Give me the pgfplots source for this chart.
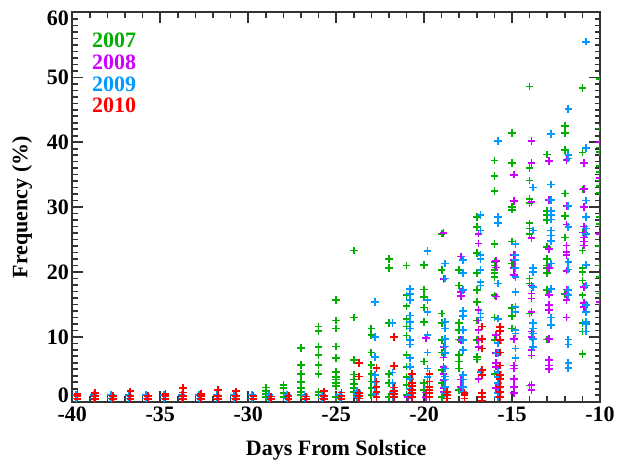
\documentclass[border=0pt]{standalone}
\usepackage{pgfplots}
\pgfplotsset{compat=1.18}
\usepackage{fontspec}
\setmainfont{Liberation Serif}
\definecolor{g07}{RGB}{0,175,0}
\definecolor{m08}{RGB}{204,0,255}
\definecolor{b09}{RGB}{0,153,255}
\definecolor{r10}{RGB}{255,0,0}
\begin{document}
\begin{tikzpicture}[x=1pt,y=1pt]
\useasboundingbox (0,0) rectangle (631,464);
\begin{axis}[
  at={(72.3pt,62.3pt)}, anchor=south west,
  scale only axis, width=527.7pt, height=389.2pt,
  xmin=-40, xmax=-10, ymin=0, ymax=60,
  xtick={-40,-35,...,-10}, xticklabels={-40,-35,-30,-25,-20,-15,-10},
  ytick={0,10,...,60}, yticklabels={\raisebox{-1pt}[0pt][0pt]{0},10,20,30,40,50,\raisebox{-13pt}[0pt][0pt]{60}},
  minor x tick num=4, minor y tick num=9,
  tick align=inside, xtick pos=both, ytick pos=both,
  major tick length=11pt, minor tick length=5.5pt,
  every tick/.style={black!80, line width=1.6pt},
  axis line style={black!80, line width=2pt},
  tick label style={font=\fontsize{22}{24}\selectfont\bfseries},
  yticklabel style={inner ysep=0pt},
  xticklabel style={yshift=-4pt, inner ysep=1pt},
  xlabel={Days From Solstice}, ylabel={Frequency (\%)},
  x label style={at={(rel axis cs:0.5,-0.124)}, anchor=center, font=\fontsize{22}{24}\selectfont\bfseries},
  y label style={at={(rel axis cs:-0.095,0.5)}, anchor=center, font=\fontsize{22}{24}\selectfont\bfseries},
  clip marker paths=true,
  every axis plot/.append style={only marks, mark=+, mark size=3.8pt, line width=1.7pt},
]
\addplot[g07] coordinates {
(-29,0.7)(-29,1.2)(-29,1.7)(-29,2.2)
(-28,0.7)(-28,1.3)(-28,2.1)(-28,2.6)
(-27,1.0)(-27,1.5)(-27,2.1)(-27,3.0)(-27,4.3)(-27,5.7)(-27,8.3)
(-26,1.0)(-26,1.5)(-26,4.3)(-26,5.7)(-26,7.2)(-26,8.4)(-26,10.9)(-26,11.6)
(-25,0.7)(-25,2.4)(-25,2.9)(-25,3.4)(-25,3.8)(-25,4.6)(-25,6.7)(-25,8.5)(-25,11.3)(-25,12.5)(-25,15.7)
(-24,1.5)(-24,2.1)(-24,2.7)(-24,3.4)(-24,4.2)(-24,6.4)(-24,13.0)(-24,23.3)
(-23,1.0)(-23,2.1)(-23,3.1)(-23,4.3)(-23,5.7)(-23,7.6)(-23,10.3)(-23,11.3)
(-22,0.7)(-22,2.9)(-22,4.3)(-22,12.1)(-22,20.6)(-22,22.0)
(-21,1.0)(-21,2.6)(-21,3.8)(-21,5.4)(-21,7.2)(-21,10.2)(-21,11.6)(-21,12.8)(-21,14.7)(-21,16.4)(-21,21.0)
(-20,1.8)(-20,2.9)(-20,6.2)(-20,12.3)(-20,14.5)(-20,16.1)(-20,17.3)(-20,21.1)
(-19,0.7)(-19,2.9)(-19,4.9)(-19,7.6)(-19,9.5)(-19,12.1)(-19,13.6)(-19,20.3)(-19,25.9)
(-18,1.8)(-18,5.1)(-18,6.2)(-18,7.2)(-18,9.6)(-18,11.1)(-18,12.1)(-18,17.9)(-18,20.3)
(-17,6.5)(-17,6.9)(-17,9.5)(-17,12.5)(-17,15.4)(-17,17.2)(-17,19.8)(-17,22.9)(-17,26.9)(-17,28.5)
(-16,4.3)(-16,9.5)(-16,13.0)(-16,16.4)(-16,19.2)(-16,19.8)(-16,20.3)(-16,21.0)(-16,21.5)(-16,24.3)(-16,32.5)(-16,34.8)(-16,37.2)
(-15,11.3)(-15,13.2)(-15,14.4)(-15,21.3)(-15,24.7)(-15,29.6)(-15,30.0)(-15,36.8)(-15,41.4)
(-14,2.5)(-14,13.6)(-14,18.2)(-14,19.0)(-14,25.9)(-14,26.7)(-14,27.5)(-14,30.6)(-14,31.3)(-14,34.1)(-14,36.0)(-14,48.6)
(-13,9.6)(-13,17.2)(-13,19.8)(-13,20.6)(-13,21.0)(-13,22.0)(-13,23.9)(-13,28.0)(-13,28.8)(-13,29.4)(-13,38.1)
(-12,16.6)(-12,25.3)(-12,28.6)(-12,32.1)(-12,38.8)(-12,41.4)(-12,42.5)
(-11,7.4)(-11,10.8)(-11,12.1)(-11,16.4)(-11,18.7)(-11,20.0)(-11,20.6)(-11,23.3)(-11,26.1)(-11,32.7)(-11,38.4)(-11,48.4)
(-10,16.7)(-10,19.2)(-10,21.0)(-10,24.0)(-10,27.4)(-10,28.5)(-10,32.2)(-10,33.3)(-10,34.1)(-10,35.4)(-10,36.3)(-10,38.5)(-10,39.2)(-10,42.1)(-10,49.8)
};
\addplot[m08] coordinates {
(-20.9,0.7)
(-19.9,0.7)(-19.9,1.4)(-19.9,9.8)
(-18.9,1.5)(-18.9,2.1)(-18.9,3.3)(-18.9,4.3)(-18.9,5.4)(-18.9,6.8)(-18.9,8.4)(-18.9,18.9)(-18.9,26.0)
(-17.9,2.3)(-17.9,3.4)(-17.9,9.5)(-17.9,16.3)(-17.9,16.9)(-17.9,22.4)
(-16.9,3.5)(-16.9,8.4)(-16.9,9.5)(-16.9,11.1)(-16.9,12.5)(-16.9,14.1)(-16.9,24.4)(-16.9,25.9)
(-15.9,2.1)(-15.9,5.4)(-15.9,6.0)(-15.9,7.5)(-15.9,10.3)(-15.9,16.2)(-15.9,20.7)(-15.9,21.7)
(-14.9,1.3)(-14.9,2.3)(-14.9,3.5)(-14.9,5.1)(-14.9,5.6)(-14.9,9.7)(-14.9,19.5)(-14.9,20.6)(-14.9,21.8)(-14.9,22.6)(-14.9,30.9)(-14.9,35.0)
(-13.9,1.8)(-13.9,2.6)(-13.9,7.1)(-13.9,8.0)(-13.9,10.0)(-13.9,10.8)(-13.9,13.8)(-13.9,15.9)(-13.9,16.7)(-13.9,17.9)(-13.9,25.2)(-13.9,30.8)(-13.9,36.8)(-13.9,40.2)
(-12.9,5.0)(-12.9,5.6)(-12.9,6.4)(-12.9,9.7)(-12.9,14.1)(-12.9,14.9)(-12.9,16.5)(-12.9,20.6)(-12.9,23.5)(-12.9,31.1)(-12.9,37.1)
(-11.9,13.0)(-11.9,15.7)(-11.9,16.6)(-11.9,17.3)(-11.9,20.2)(-11.9,22.6)(-11.9,23.1)(-11.9,24.1)(-11.9,27.3)(-11.9,30.2)(-11.9,37.3)
(-10.9,14.6)(-10.9,15.2)(-10.9,17.7)(-10.9,24.1)(-10.9,24.7)(-10.9,25.3)(-10.9,26.1)(-10.9,27.0)(-10.9,30.0)(-10.9,32.8)(-10.9,36.8)
(-10,15.4)(-10,25.9)(-10,34.5)(-10,40.0)
};
\addplot[b09] coordinates {
(-39.8,0.5)(-39.8,1.0)(-38.8,0.5)(-38.8,1.0)(-37.8,0.5)(-37.8,1.0)(-36.8,0.5)(-36.8,1.0)
(-35.8,0.5)(-35.8,1.0)(-34.8,0.5)(-34.8,1.0)(-33.8,0.5)(-33.8,1.0)(-32.8,0.5)(-32.8,1.0)
(-31.8,0.5)(-31.8,1.0)(-30.8,0.5)(-30.8,1.0)(-29.8,0.5)(-29.8,1.0)(-28.8,0.5)(-28.8,1.0)
(-27.8,0.5)(-27.8,1.0)(-26.8,0.5)(-26.8,1.0)(-25.8,0.5)(-25.8,1.0)(-24.8,0.5)(-24.8,1.0)
(-23.8,0.7)(-23.8,1.2)(-23.8,1.7)
(-22.8,1.2)(-22.8,2.2)(-22.8,3.0)(-22.8,4.1)(-22.8,6.9)(-22.8,10.0)(-22.8,15.4)
(-21.8,0.7)(-21.8,1.5)(-21.8,2.9)(-21.8,4.5)(-21.8,12.1)
(-20.8,1.0)(-20.8,2.0)(-20.8,3.5)(-20.8,5.4)(-20.8,6.7)(-20.8,8.8)(-20.8,9.5)(-20.8,11.3)(-20.8,12.3)(-20.8,13.3)(-20.8,15.7)(-20.8,16.6)(-20.8,17.4)
(-19.8,2.3)(-19.8,3.8)(-19.8,5.1)(-19.8,7.6)(-19.8,10.3)(-19.8,13.8)(-19.8,15.7)(-19.8,23.2)
(-18.8,1.3)(-18.8,2.3)(-18.8,3.4)(-18.8,3.9)(-18.8,5.1)(-18.8,7.5)(-18.8,8.5)(-18.8,9.7)(-18.8,11.3)(-18.8,12.3)(-18.8,19.0)(-18.8,21.3)
(-17.8,1.5)(-17.8,2.3)(-17.8,3.4)(-17.8,4.1)(-17.8,8.0)(-17.8,9.5)(-17.8,11.1)(-17.8,13.2)(-17.8,14.0)(-17.8,17.2)(-17.8,19.8)(-17.8,21.8)
(-16.8,4.6)(-16.8,13.0)(-16.8,13.6)(-16.8,17.9)(-16.8,18.4)(-16.8,20.3)(-16.8,22.0)(-16.8,22.6)(-16.8,26.4)(-16.8,28.8)
(-15.8,0.7)(-15.8,1.3)(-15.8,2.9)(-15.8,3.8)(-15.8,4.6)(-15.8,7.5)(-15.8,9.0)(-15.8,12.8)(-15.8,18.2)(-15.8,27.5)(-15.8,28.5)(-15.8,40.2)
(-14.8,6.7)(-14.8,8.2)(-14.8,10.5)(-14.8,11.1)(-14.8,13.8)(-14.8,14.6)(-14.8,16.9)(-14.8,19.2)(-14.8,20.6)(-14.8,21.8)(-14.8,22.6)(-14.8,24.3)
(-13.8,8.4)(-13.8,9.7)(-13.8,10.5)(-13.8,11.3)(-13.8,12.1)(-13.8,17.7)(-13.8,20.0)(-13.8,20.6)(-13.8,26.4)(-13.8,33.0)
(-12.8,11.8)(-12.8,13.0)(-12.8,17.4)(-12.8,21.3)(-12.8,24.8)(-12.8,25.6)(-12.8,26.4)(-12.8,28.1)(-12.8,28.8)(-12.8,29.4)(-12.8,31.1)(-12.8,33.5)(-12.8,41.3)
(-11.8,5.2)(-11.8,6.0)(-11.8,8.8)(-11.8,9.6)(-11.8,16.4)(-11.8,17.2)(-11.8,20.4)(-11.8,21.5)(-11.8,26.9)(-11.8,30.2)(-11.8,37.5)(-11.8,38.0)(-11.8,45.1)
(-10.8,10.8)(-10.8,12.0)(-10.8,12.3)(-10.8,13.8)(-10.8,14.9)(-10.8,17.9)(-10.8,21.1)(-10.8,25.9)(-10.8,26.7)(-10.8,28.5)(-10.8,31.0)(-10.8,39.1)(-10.8,55.5)
};
\addplot[r10] coordinates {
(-39.7,0.4)(-39.7,0.9)(-39.7,1.2)
(-38.7,0.4)(-38.7,0.9)(-38.7,1.3)
(-37.7,0.4)(-37.7,0.9)
(-36.7,0.4)(-36.7,0.9)(-36.7,1.6)
(-35.7,0.4)(-35.7,0.9)
(-34.7,0.4)(-34.7,0.9)(-34.7,1.2)
(-33.7,0.4)(-33.7,0.9)(-33.7,1.4)(-33.7,2.1)
(-32.7,0.4)(-32.7,0.9)(-32.7,1.2)
(-31.7,0.4)(-31.7,0.9)(-31.7,1.8)
(-30.7,0.4)(-30.7,0.9)(-30.7,1.6)
(-29.7,0.4)(-29.7,0.9)
(-28.7,0.4)(-28.7,0.8)
(-27.7,0.4)(-27.7,0.9)
(-26.7,0.4)(-26.7,0.8)
(-25.7,0.4)(-25.7,0.9)(-25.7,1.6)
(-24.7,0.4)(-24.7,0.9)(-24.7,1.4)
(-23.7,0.5)(-23.7,0.9)(-23.7,1.3)(-23.7,3.9)(-23.7,6.0)
(-22.7,0.7)(-22.7,1.5)(-22.7,2.3)(-22.7,3.1)(-22.7,5.2)
(-21.7,0.7)(-21.7,1.2)(-21.7,1.7)(-21.7,2.2)(-21.7,5.5)(-21.7,10.0)
(-20.7,0.7)(-20.7,1.3)(-20.7,1.8)(-20.7,2.4)(-20.7,2.9)(-20.7,4.3)
(-19.7,0.7)(-19.7,1.3)(-19.7,1.8)(-19.7,2.3)(-19.7,3.1)(-19.7,4.3)
(-18.7,0.5)(-18.7,1.0)(-18.7,1.5)
(-17.7,0.5)(-17.7,1.0)(-17.7,1.3)
(-16.7,0.2)(-16.7,0.7)(-16.7,1.3)(-16.7,4.1)(-16.7,4.9)(-16.7,8.2)(-16.7,9.7)(-16.7,11.6)
(-15.7,0.7)(-15.7,1.5)(-15.7,2.3)(-15.7,3.5)(-15.7,4.1)(-15.7,5.6)(-15.7,7.6)(-15.7,9.5)(-15.7,10.9)(-15.7,11.5)
};
\node[anchor=west, text=g07, font=\fontsize{22}{24}\selectfont\bfseries] at (rel axis cs:0.031,0.929) {2007};
\node[anchor=west, text=m08, font=\fontsize{22}{24}\selectfont\bfseries] at (rel axis cs:0.031,0.873) {2008};
\node[anchor=west, text=b09, font=\fontsize{22}{24}\selectfont\bfseries] at (rel axis cs:0.031,0.816) {2009};
\node[anchor=west, text=r10, font=\fontsize{22}{24}\selectfont\bfseries] at (rel axis cs:0.031,0.762) {2010};
\end{axis}
\end{tikzpicture}
\end{document}
